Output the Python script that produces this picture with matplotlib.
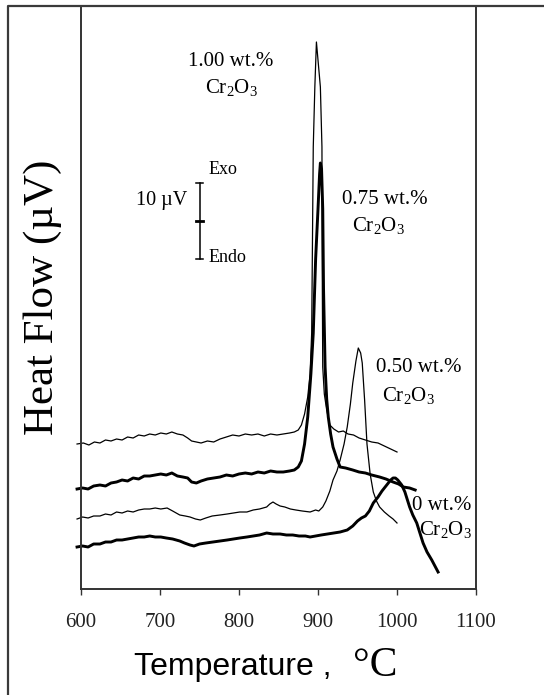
import numpy as np
import matplotlib
matplotlib.use('Agg')
import matplotlib.pyplot as plt

# DTA traces: (temperature in C, signal height in axis units)
curve_100 = [(595,145),(603,146),(610,144),(617,147),(624,146),(631,149),(638,148),(645,150),(652,149),(659,152),
	(666,151),(673,154),(680,153),(687,155),(694,154),(701,156),(708,155),(715,157),(722,155),(729,154),
	(735,151),(740,148),(746,147),(752,146),(760,148),(768,147),(776,150),(784,152),(792,154),(800,153),
	(808,155),(816,154),(824,155),(832,153),(840,155),(848,154),(856,155),(864,156),(870,157),(875,159),
	(879,164),(883,175),(887,192),(890,215),(892,256),(894,442),(896,502),(898,547),(901,520),(903,502),
	(905,442),(905.5,300),(906,222),(908,195),(911,179),(915,164),(920,160),(926,157),(932,158),(938,155),
	(945,154),(952,151),(960,149),(968,147),(976,146),(984,143),(992,140),(1000,137)]

curve_075 = [(595,100),(602,101),(609,100),(616,103),(624,104),(631,103),(638,106),(645,107),(652,109),(659,108),
	(666,111),(673,110),(680,113),(687,113),(694,114),(701,115),(708,114),(715,116),(722,113),(729,112),
	(735,111),(740,107),(746,106),(752,108),(760,110),(768,111),(776,112),(784,114),(792,113),(800,115),
	(808,116),(816,115),(824,117),(832,116),(840,118),(848,117),(856,117),(864,118),(870,119),(875,122),
	(879,128),(883,145),(887,172),(891,215),(894,256),(897,330),(900,380),(902,415),(903,426),(904.5,420),
	(906,380),(907,300),(909,222),(911,190),(913,172),(916,155),(919,142),(924,130),(928,122),(935,121),
	(944,119),(952,117),(960,116),(968,114),(978,112),(986,110),(995,107),(1002,105),(1008,102),(1016,101),
	(1023,99)]

curve_050 = [(595,70),(602,72),(609,71),(616,73),(624,73),(631,75),(638,74),(645,77),(652,76),(659,78),
	(666,77),(673,79),(680,80),(687,80),(694,81),(701,80),(709,81),(716,78),(725,74),(732,73),
	(738,72),(745,70),(751,69),(758,71),(766,73),(776,74),(785,75),(793,76),(801,77),(810,77),
	(818,79),(826,80),(835,82),(839,85),(843,87),(847,85),(852,83),(858,82),(865,80),(872,79),
	(880,78),(890,77),(897,79),(901,78),(906,82),(910,88),(915,98),(919,109),(924,118),(928,129),
	(933,145),(937,162),(941,185),(944,206),(948,228),(951,241),(954,236),(956,226),(959,189),(962,145),
	(966,115),(970,97),(974,88),(978,82),(984,77),(990,73),(995,70),(1000,66)]

curve_000 = [(595,42),(602,43),(609,42),(616,45),(624,45),(631,47),(638,47),(645,49),(652,49),(659,50),
	(666,51),(673,52),(680,52),(687,53),(694,52),(701,52),(708,51),(716,50),(725,48),(731,46),
	(738,44),(743,43),(750,45),(758,46),(767,47),(776,48),(785,49),(793,50),(801,51),(810,52),
	(818,53),(826,54),(835,56),(843,55),(852,55),(860,54),(868,54),(876,53),(884,53),(890,52),
	(897,53),(904,54),(912,55),(920,56),(928,57),(937,59),(944,63),(950,68),(955,71),(960,73),
	(965,78),(970,86),(976,92),(981,98),(987,104),(992,109),(995,111),(998,111),(1001,109),(1004,106),
	(1006,104),(1010,97),(1016,82),(1020,74),(1025,66),(1029,56),(1033,46),(1038,37),(1044,29),(1048,23),
	(1052,17)]

x_ticks = [600, 700, 800, 900, 1000, 1100]

# 10 uV scale bar
bar_T = 750
bar_top, bar_mid, bar_bot = 406, 368, 330

SERIF = 'Liberation Serif'
SANS = 'Liberation Sans'


def main():
	plt.rcParams['mathtext.fontset'] = 'custom'
	plt.rcParams['mathtext.rm'] = SERIF
	plt.rcParams['mathtext.default'] = 'rm'

	fig = plt.figure(figsize=(5.44, 6.95), dpi=100)
	ax = fig.add_axes([81/544, 106/695, 395/544, 583/695])

	# outer frame of the picture
	fig.add_artist(plt.Line2D([8/544, 8/544, 1.0], [0.0, 1 - 6/695, 1 - 6/695],
		transform=fig.transFigure, color='#3a3a3a', lw=1.6))

	thin = dict(color='black', lw=0.9)
	thick = dict(color='black', lw=2.1)
	for data, style in [(curve_100, thin), (curve_075, thick), (curve_050, thin), (curve_000, thick)]:
		t, s = np.array(data).T
		ax.plot(t, s, clip_on=False, **style)

	# scale bar
	ax.plot([bar_T, bar_T], [bar_bot, bar_top], color='black', lw=1.1)
	ax.plot([bar_T - 5, bar_T + 5], [bar_top, bar_top], color='black', lw=1.1)
	ax.plot([bar_T - 5, bar_T + 5], [bar_bot, bar_bot], color='black', lw=1.1)
	ax.plot([bar_T - 5, bar_T + 5], [bar_mid, bar_mid], color='black', lw=2.0)
	ax.text(bar_T - 15, 388, '10 \u00b5V', family=SERIF, fontsize=14.5, ha='right', va='center')
	ax.text(bar_T + 12, 419, 'Exo', family=SERIF, fontsize=13, ha='left', va='center')
	ax.text(bar_T + 12, 331, 'Endo', family=SERIF, fontsize=13, ha='left', va='center')

	# curve labels
	labels = [('1.00 wt.%', 790, 527, 790, 501),
		('0.75 wt.%', 984, 389, 976, 364),
		('0.50 wt.%', 1028, 221, 1014, 194),
		('0 wt.%', 1057, 84, 1061, 59)]
	for txt, x1, y1, x2, y2 in labels:
		ax.text(x1, y1, txt, family=SERIF, fontsize=15, ha='center', va='center')
		ax.text(x2, y2, 'Cr$_2$O$_3$', family=SERIF, fontsize=15, ha='center', va='center')

	ax.set_xlim(600, 1100)
	ax.set_ylim(0, 583)
	ax.set_xticks(x_ticks)
	ax.set_xticklabels([str(v) for v in x_ticks], family=SERIF, fontsize=15, color='#222222')
	ax.tick_params(axis='x', direction='out', length=4.3, width=1.0, pad=13, color='#333333')
	ax.set_yticks([])
	for sp in ax.spines.values():
		sp.set_linewidth(1.4)
		sp.set_color('#333333')

	fig.text(42.5/544, 1 - 297/695, 'Heat Flow (\u00b5V)', family=SERIF, fontsize=31,
		rotation=90, ha='center', va='center')
	fig.text(134/544, 1 - 675/695, 'Temperature ,', family=SANS, fontsize=23, ha='left', va='baseline')
	fig.text(353/544, 1 - 676/695, '\u00b0C', family=SERIF, fontsize=30, ha='left', va='baseline')

	fig.savefig('out.png', dpi=100)


main()
